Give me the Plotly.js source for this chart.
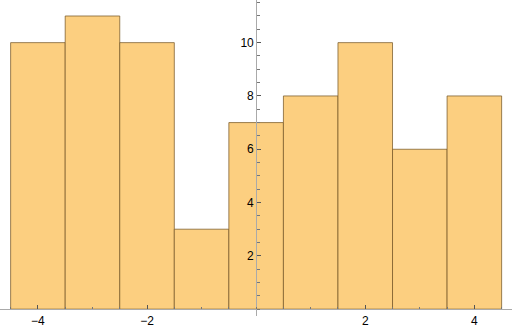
<!DOCTYPE html>
<html><head><meta charset="utf-8">
<script src="https://cdn.plot.ly/plotly-3.0.1.min.js"></script>
<style>html,body{margin:0;padding:0;background:#fff}#chart{width:512px;height:330px}</style>
</head><body><div id="chart"></div>
<script>
const binCenters = [-4, -3, -2, -1, 0, 1, 2, 3, 4];
const counts = [10, 11, 10, 3, 7, 8, 10, 6, 8];
const xTickVals = [-4, -2, 2, 4];
const yTickVals = [2, 4, 6, 8, 10];

const trace = {
  type: 'bar', x: binCenters, y: counts, width: 1,
  marker: {color: 'rgb(252,207,128)', line: {color: 'rgba(120,90,40,0.75)', width: 1}},
  hoverinfo: 'skip'
};
const tickFont = {family: 'Liberation Sans, Arial, sans-serif', size: 12, color: '#000'};
const layout = {
  width: 512, height: 330,
  margin: {l: 0, r: 0, t: 0, b: 14},
  paper_bgcolor: '#fff', plot_bgcolor: 'rgba(0,0,0,0)',
  showlegend: false, bargap: 0,
  xaxis: {
    range: [-4.695, 4.69], showgrid: false, zeroline: false,
    anchor: 'free', position: 0.0217,
    showline: true, linecolor: '#aaa', linewidth: 1,
    tickmode: 'array', tickvals: xTickVals, ticktext: xTickVals.map(v => (v < 0 ? '\u2212' : '') + Math.abs(v)),
    ticks: 'inside', ticklen: 4, tickcolor: '#555', tickwidth: 1,
    minor: {tickmode: 'linear', tick0: 0, dtick: 0.5, ticks: 'inside', ticklen: 2.5, tickcolor: '#777', showgrid: false},
    tickfont: tickFont
  },
  yaxis: {
    range: [-0.257, 11.6], showgrid: false, zeroline: false,
    anchor: 'free', position: 0.5004,
    showline: true, linecolor: '#aaa', linewidth: 1,
    tickmode: 'array', tickvals: yTickVals,
    ticks: 'inside', ticklen: 4, tickcolor: '#555', tickwidth: 1,
    minor: {tickmode: 'linear', tick0: 0, dtick: 0.5, ticks: 'inside', ticklen: 2.5, tickcolor: '#777', showgrid: false},
    tickfont: tickFont
  }
};
Plotly.newPlot('chart', [trace], layout, {staticPlot: true, displayModeBar: false});
</script></body></html>
